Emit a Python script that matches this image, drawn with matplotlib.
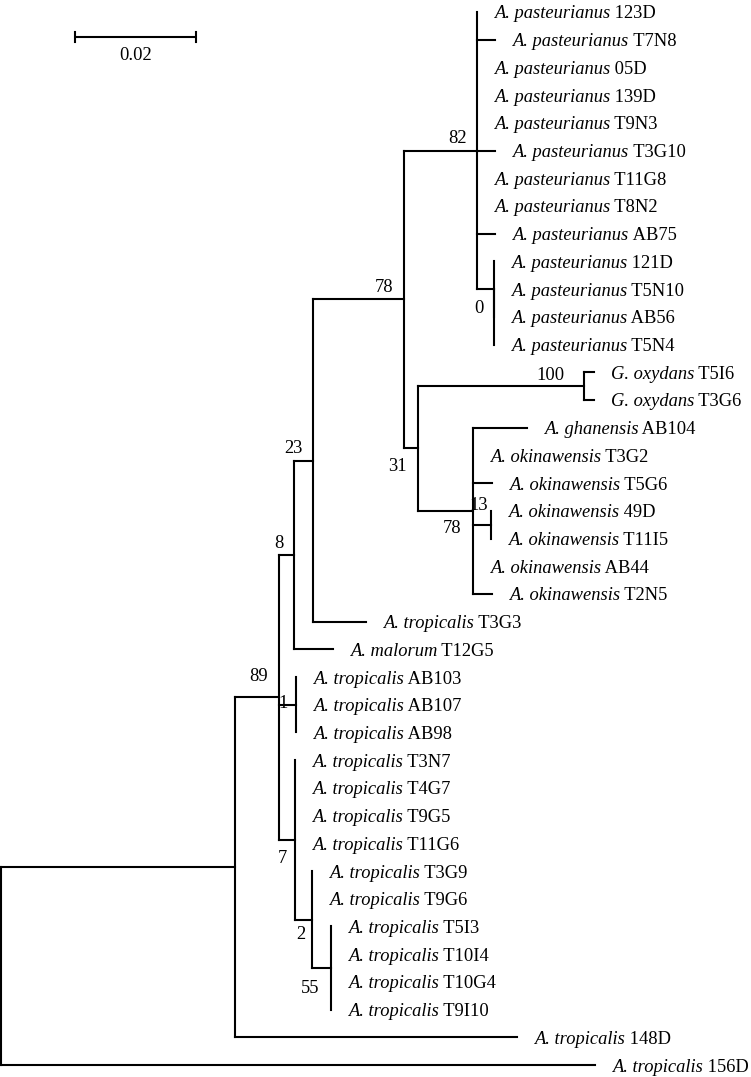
import matplotlib
matplotlib.use('Agg')
import matplotlib.pyplot as plt
from matplotlib.collections import LineCollection

plt.rcParams['font.family'] = ['Liberation Serif', 'DejaVu Serif']

# ---------------- data ----------------
leaf_strains = ['123D', 'T7N8', '05D', '139D', 'T9N3', 'T3G10', 'T11G8', 'T8N2', 'AB75',
                '121D', 'T5N10', 'AB56', 'T5N4', 'T5I6', 'T3G6', 'AB104', 'T3G2', 'T5G6',
                '49D', 'T11I5', 'AB44', 'T2N5', 'T3G3', 'T12G5', 'AB103', 'AB107', 'AB98',
                'T3N7', 'T4G7', 'T9G5', 'T11G6', 'T3G9', 'T9G6', 'T5I3', 'T10I4', 'T10G4',
                'T9I10', '148D', '156D']
leaf_species = (['A. pasteurianus'] * 13 + ['G. oxydans'] * 2 + ['A. ghanensis'] +
                ['A. okinawensis'] * 6 + ['A. tropicalis', 'A. malorum'] +
                ['A. tropicalis'] * 15)
leaf_lengths = [0, 0.0030, 0, 0, 0, 0.0030, 0, 0, 0.0030,
                0, 0, 0, 0, 0.0017, 0.0017, 0.0089, 0, 0.0031,
                0, 0, 0, 0.0031, 0.0088, 0.0063, 0, 0, 0,
                0, 0, 0, 0, 0, 0, 0, 0, 0,
                0, 0.0466, 0.0982]

node_names = ['root', 'nA', 'n89', 'n8', 'n23', 'n78', 'n82', 'n0', 'n0b',
              'n31', 'n100', 'n78b', 'n13', 'n1', 'n7', 'n2', 'n55']
node_children = [
    ['nA', '156D'],
    ['n89', '148D'],
    ['n8', 'n1', 'n7'],
    ['n23', 'T12G5'],
    ['n78', 'T3G3'],
    ['n82', 'n31'],
    ['123D', 'T7N8', '05D', '139D', 'T9N3', 'T3G10', 'T11G8', 'T8N2', 'AB75', 'n0'],
    ['121D', 'n0b'],
    ['T5N10', 'AB56', 'T5N4'],
    ['n100', 'n78b'],
    ['T5I6', 'T3G6'],
    ['AB104', 'T3G2', 'T5G6', 'n13', 'AB44', 'T2N5'],
    ['49D', 'T11I5'],
    ['AB103', 'AB107', 'AB98'],
    ['T3N7', 'T4G7', 'T9G5', 'T11G6', 'n2'],
    ['T3G9', 'T9G6', 'n55'],
    ['T5I3', 'T10I4', 'T10G4', 'T9I10'],
]
node_lengths = [0, 0.0387, 0.0073, 0.0025, 0.0031, 0.0150, 0.0121, 0.0028, 0,
                0.0023, 0.0274, 0.0091, 0.0030, 0.0028, 0.0026, 0.0028, 0.0031]
node_support = [None, None, 89, 8, 23, 78, 82, 0, None,
                31, 100, 78, 13, 1, 7, 2, 55]

scale_length = 0.02

# ---------------- style / layout ----------------
W, H, DPI = 751, 1077, 100
u = scale_length / 121.0           # data units per pixel
step = (1065 - 12) / 38.0          # pixels per leaf row
LW = 1.5
FS = 13.3
PT = 72.0 / DPI                    # points per pixel

# bootstrap label offsets (pixels: right edge dx, centre dy, up positive)
support_offsets = {
    'n82': (-10, 14), 'n78': (-11, 14), 'n23': (-11, 14), 'n8': (-11, 13),
    'n89': (-11, 23), 'n100': (-19, 13), 'n31': (-11, -16), 'n78b': (-12, -16),
    'n13': (-3, 21), 'n0': (-10, -17), 'n1': (-9, 3), 'n7': (-8, -17),
    'n2': (-7, -13), 'n55': (-11, -18),
}

# ---------------- tree layout ----------------
leaf_info = {s: (sp, bl) for s, sp, bl in zip(leaf_strains, leaf_species, leaf_lengths)}
node_info = {n: (ch, bl, sup) for n, ch, bl, sup in
             zip(node_names, node_children, node_lengths, node_support)}

pos = {}
counter = [0]


def layout(name, parent_x):
    if name in leaf_info:
        x = parent_x + leaf_info[name][1]
        y = counter[0]
        counter[0] += 1
        pos[name] = (x, y, parent_x)
        return y
    ch, bl, _ = node_info[name]
    x = parent_x + bl
    ys = [layout(c, x) for c in ch]
    y = (ys[0] + ys[-1]) / 2.0
    pos[name] = (x, y, parent_x)
    return y


layout('root', 0.0)

fig = plt.figure(figsize=(W / DPI, H / DPI), dpi=DPI)
ax = fig.add_axes([0, 0, 1, 1])
ax.set_xlim(-1 * u, (W - 1) * u)
ax.set_ylim((H - 12) / step, -12 / step)
ax.axis('off')

segs = []
for name, (x, y, px) in pos.items():
    if name != 'root' and x - px > 1e-12:
        segs.append([(px, y), (x, y)])
    if name in node_info:
        ch = node_info[name][0]
        y0 = pos[ch[0]][1]
        y1 = pos[ch[-1]][1]
        segs.append([(x, y0), (x, y1)])
ax.add_collection(LineCollection(segs, colors='black', linewidths=LW,
                                 capstyle='projecting', joinstyle='miter'))

# leaf labels
for s in leaf_strains:
    x, y, _ = pos[s]
    sp = leaf_info[s][0]
    t = ax.annotate(sp, xy=(x, y), xytext=(17 * PT, 0), textcoords='offset points',
                    ha='left', va='center_baseline', fontsize=FS, style='italic')
    ax.annotate(' ' + s, xy=(1, 0.5), xycoords=t, ha='left', va='center',
                fontsize=FS)

# bootstrap values
for name in node_names:
    sup = node_info[name][2]
    if sup is None:
        continue
    x, y, _ = pos[name]
    dx, dy = support_offsets[name]
    ax.annotate(str(sup), xy=(x, y), xytext=(dx * PT, dy * PT),
                textcoords='offset points', ha='right', va='center_baseline',
                fontsize=FS)

# scale bar
sb_x0 = 74 * u
sb_y = (37 - 12) / step
tick = 5 / step
ax.plot([sb_x0, sb_x0 + scale_length], [sb_y, sb_y], color='black', lw=LW,
        solid_capstyle='butt')
ax.plot([sb_x0, sb_x0], [sb_y - tick, sb_y + tick], color='black', lw=LW)
ax.plot([sb_x0 + scale_length] * 2, [sb_y - tick, sb_y + tick], color='black', lw=LW)
ax.annotate(f'{scale_length:.2f}', xy=(sb_x0 + scale_length / 2, sb_y),
            xytext=(0, -17 * PT), textcoords='offset points', ha='center',
            va='center_baseline', fontsize=FS)

fig.savefig('out.png', dpi=DPI)
